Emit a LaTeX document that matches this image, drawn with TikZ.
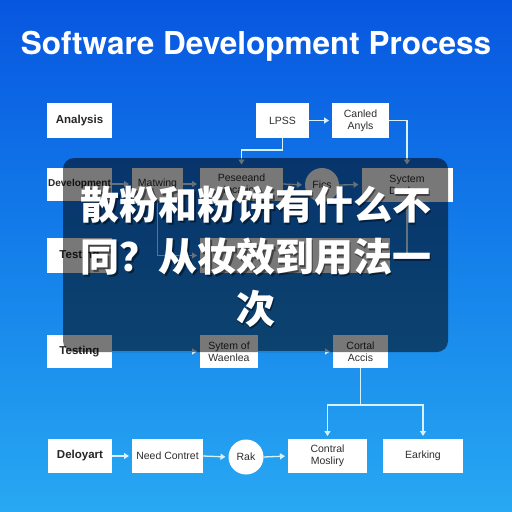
\documentclass[tikz,border=0pt]{standalone}
\usepackage{fontspec}
\setmainfont{Liberation Sans}
\newfontfamily\titlefont{TeX Gyre Heros}
\newfontfamily\cjk{Noto Sans CJK SC}
\usetikzlibrary{arrows.meta,calc}
\definecolor{bgtop}{RGB}{8,86,224}
\definecolor{bgmid}{RGB}{20,128,234}
\definecolor{bgbot}{RGB}{40,168,242}
\definecolor{linkc}{RGB}{214,242,255}
\definecolor{labelc}{RGB}{45,45,45}
\begin{document}
\begin{tikzpicture}[x=1pt,y=-1pt,
  box/.style={fill=white,draw=none,inner sep=0pt,outer sep=0pt,align=center,
    text=labelc,font=\fontsize{10.5}{12}\selectfont},
  boldbox/.style={box,font=\bfseries\fontsize{11.5}{13}\selectfont,text=black!85},
  circ/.style={box,circle,minimum size=34pt},
  conn/.style={draw=linkc,line width=1.3pt},
  arr/.style={conn,-{Triangle[length=5pt,width=6pt]},shorten >=3pt},
]
\useasboundingbox (0,0) rectangle (512,512);
\shade[top color=bgtop,bottom color=bgbot,middle color=bgmid] (0,0) rectangle (512,512);

% title
\node[anchor=base,text=white,font=\titlefont\bfseries\fontsize{31.5}{34}\selectfont] (title) at (256,54) {Software Development Process};

% row 1
\node[boldbox,minimum width=65pt,minimum height=35pt] (ana) at (79.5,120.5) {Analysis};
\node[box,minimum width=53pt,minimum height=35pt] (lpss) at (282.5,120.5) {LPSS};
\node[box,minimum width=57pt,minimum height=35pt] (canl) at (360.5,120.5) {Canled\\Anyls};

% row 2
\node[boldbox,minimum width=65pt,minimum height=33pt,font=\bfseries\fontsize{10}{12}\selectfont] (dev) at (79.5,184) {Development};
\node[box,minimum width=51pt,minimum height=33pt] (mat) at (157.5,184) {Matwing};
\node[box,minimum width=83pt,minimum height=33pt] (pass) at (241.5,184) {Peseeand\\Incatice};
\node[circ] (fics) at (322,185) {Fics};
\node[box,minimum width=91pt,minimum height=34pt] (sys) at (407,184.5) {Syctem\\Deckan};

% row 3
\node[boldbox,minimum width=65pt,minimum height=35pt] (test) at (79.5,255.5) {Testing};
\node[box,minimum width=190pt,minimum height=35pt] (wide) at (295,255.5) {};

% row 4
\node[boldbox,minimum width=65pt,minimum height=33pt] (testing) at (79.5,351.5) {Testing};
\node[box,minimum width=58pt,minimum height=33pt] (sytem) at (229,351.5) {Sytem of\\Waenlea};
\node[box,minimum width=55pt,minimum height=33pt] (cortal) at (360.5,351.5) {Cortal\\Accis};

% row 5
\node[boldbox,minimum width=64pt,minimum height=34pt] (delo) at (80,456) {Deloyart};
\node[box,minimum width=71pt,minimum height=34pt] (need) at (167.5,456) {Need Contret};
\node[circ,minimum size=35pt] (rak) at (246,457) {Rak};
\node[box,minimum width=79pt,minimum height=34pt] (contral) at (327.5,456) {Contral\\Mosliry};
\node[box,minimum width=80pt,minimum height=34pt] (eark) at (423,456) {Earking};

% connectors
\coordinate (b1) at (241.5,150);
\coordinate (sp) at (360.5,405);
\draw[arr] (lpss.east) -- (canl.west);
\draw[arr] (lpss.south) |- (b1) -- (pass.north);
\draw[arr] (canl.east) -| (sys.north);
\draw[arr] (dev.east) -- (mat.west);
\draw[arr] (mat.east) -- (pass.west);
\draw[arr] (pass.east) -- (fics.west);
\draw[arr] (fics.east) -- (sys.west);
\draw[arr] (mat.south) |- (wide.west);
\draw[arr] (sys.south) |- (wide.east);
\draw[arr] (testing.east) -- (sytem.west);
\draw[arr] (sytem.east) -- (cortal.west);
\draw[conn] (cortal.south) -- (sp);
\draw[arr] (sp) -| (contral.north);
\draw[arr] (sp) -| (eark.north);
\draw[arr] (delo.east) -- (need.west);
\draw[arr] (need.east) -- (rak.west);
\draw[arr] (rak.east) -- (contral.west);

% overlay
\fill[black,opacity=0.53,rounded corners=11pt] (63,158) rectangle (448,352);
\node[align=center,text=black,opacity=0.45,font=\cjk\bfseries\fontsize{39}{52}\selectfont] (cjkshadow) at (257.5,258.5) {散粉和粉饼有什么不\\同？从妆效到用法一\\次};
\node[align=center,text=white,font=\cjk\bfseries\fontsize{39}{52}\selectfont] (cjktext) at (256,257) {散粉和粉饼有什么不\\同？从妆效到用法一\\次};
\end{tikzpicture}
\end{document}
